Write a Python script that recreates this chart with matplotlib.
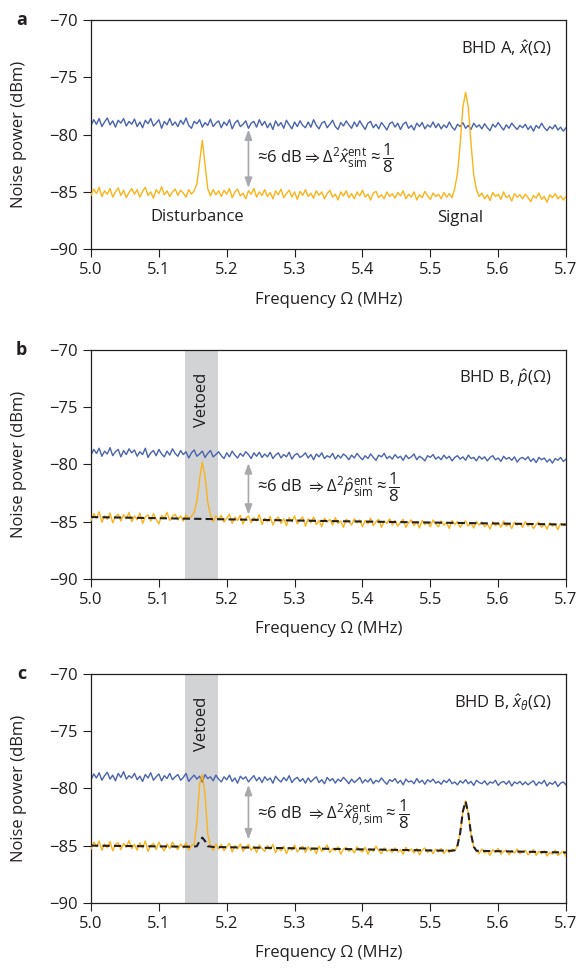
import numpy as np
import matplotlib
matplotlib.use("Agg")
import matplotlib.pyplot as plt

plt.rcParams['font.family'] = ['Open Sans', 'DejaVu Sans']
plt.rcParams['mathtext.fontset'] = 'custom'
plt.rcParams['mathtext.rm'] = 'Open Sans'
plt.rcParams['mathtext.it'] = 'Open Sans:italic'
plt.rcParams['mathtext.bf'] = 'Open Sans:bold'
plt.rcParams['mathtext.fallback'] = 'stixsans'

# ---------------- data ----------------
x_ticks = [5.0, 5.1, 5.2, 5.3, 5.4, 5.5, 5.6, 5.7]
y_ticks = [-90, -85, -80, -75, -70]
freq = np.round(np.linspace(5.0, 5.7, 176), 3)   # 0.004 MHz grid
veto_band = [5.139, 5.187]

a_blue = [
    -79.2, -78.7, -79.1, -78.6, -79.3, -78.9, -78.55, -79.15, -78.8, -79.35, -78.75, -79.0, -78.6, -79.25, -78.85, -79.1,
    -78.65, -79.3, -78.9, -79.4, -78.75, -79.05, -78.6, -79.25, -79.0, -78.7, -79.45, -78.85, -79.15, -78.6, -79.2, -78.9,
    -79.3, -78.75, -79.1, -78.55, -79.2, -79.45, -78.85, -79.05, -78.7, -79.35, -78.95, -79.2, -78.65, -79.3, -79.0, -78.8,
    -79.4, -78.9, -79.2, -78.7, -79.5, -79.0, -78.75, -79.3, -79.1, -78.8, -79.45, -79.0, -78.85, -79.35, -78.7, -79.2,
    -78.85, -79.4, -79.0, -79.55, -78.8, -79.25, -78.95, -79.45, -78.75, -79.15, -79.5, -78.9, -79.3, -78.8, -79.2, -79.4,
    -78.9, -79.35, -78.7, -79.2, -79.5, -79.0, -78.85, -79.4, -79.1, -78.75, -79.3, -79.55, -78.95, -79.25, -78.8, -79.15,
    -79.45, -78.9, -79.3, -78.8, -79.2, -79.55, -79.0, -78.85, -79.4, -79.1, -79.5, -78.95, -79.25, -79.6, -79.05, -78.9,
    -79.35, -79.0, -79.55, -79.1, -78.9, -79.45, -79.2, -79.6, -79.0, -79.3, -78.95, -79.5, -79.15, -79.35, -78.9, -79.4,
    -79.05, -79.5, -79.15, -79.4, -78.9, -79.35, -79.6, -79.1, -79.3, -78.95, -79.45, -79.2, -79.55, -79.0, -79.35, -79.15,
    -79.5, -79.05, -79.4, -79.65, -79.1, -79.35, -78.95, -79.3, -79.6, -79.15, -79.45, -79.0, -79.3, -79.55, -79.2, -79.4,
    -79.1, -79.55, -79.25, -79.7, -79.2, -79.45, -79.0, -79.4, -79.65, -79.3, -79.5, -79.15, -79.6, -79.35, -79.7, -79.4,
]
a_yellow = [
    -85.3, -84.75, -85.15, -84.6, -85.4, -84.9, -85.2, -84.7, -85.45, -85.0, -84.65, -85.3, -84.85, -85.5, -85.05, -84.7,
    -85.2, -84.8, -85.45, -84.95, -84.6, -85.3, -85.0, -85.55, -84.8, -85.15, -84.55, -85.25, -84.9, -85.4, -85.0, -84.75,
    -85.3, -84.85, -85.1, -85.45, -84.8, -85.2, -84.9, -84.3, -82.4, -80.5, -82.6, -84.7, -85.35, -84.8, -85.25, -84.9,
    -85.4, -84.85, -85.2, -84.7, -85.5, -85.0, -84.75, -85.35, -85.1, -85.6, -84.9, -85.2, -84.7, -85.45, -85.0, -85.3,
    -84.8, -85.4, -85.05, -85.6, -84.9, -85.25, -84.75, -85.5, -85.15, -84.85, -85.45, -85.0, -85.65, -84.95, -85.3, -84.8,
    -85.4, -85.1, -85.55, -84.9, -85.3, -85.0, -85.6, -85.15, -84.85, -85.45, -85.2, -85.7, -85.0, -85.35, -84.9, -85.5,
    -85.15, -85.6, -85.0, -85.35, -84.85, -85.45, -85.2, -85.7, -85.1, -84.95, -85.5, -85.25, -85.6, -85.0, -85.4, -85.15,
    -85.55, -85.05, -85.35, -84.9, -85.6, -85.2, -85.45, -85.0, -85.7, -85.25, -85.5, -84.95, -85.35, -85.65, -85.1, -85.4,
    -85.2, -85.6, -85.05, -85.45, -85.15, -85.5, -84.7, -83.4, -80.8, -77.6, -76.3, -77.6, -80.8, -83.5, -84.8, -85.4,
    -85.1, -85.6, -85.25, -85.75, -85.05, -85.4, -85.2, -85.65, -85.0, -85.5, -85.3, -85.8, -85.15, -85.45, -85.25, -85.6,
    -85.2, -85.5, -85.85, -85.3, -85.55, -85.1, -85.65, -85.4, -85.9, -85.25, -85.5, -85.15, -85.6, -85.35, -85.7, -85.4,
]
b_blue = [
    -79.2, -78.7, -79.05, -78.6, -79.3, -78.85, -79.1, -78.55, -79.25, -78.9, -78.7, -79.35, -78.8, -79.15, -78.65, -79.0,
    -78.75, -79.3, -78.9, -79.15, -78.6, -79.4, -79.0, -78.8, -79.25, -78.7, -79.1, -79.35, -78.85, -79.2, -78.65, -79.05,
    -79.3, -78.8, -79.15, -78.9, -79.45, -79.0, -78.75, -79.3, -79.1, -78.85, -79.4, -79.05, -78.8, -79.35, -79.15, -78.9,
    -79.25, -79.5, -79.0, -79.35, -78.85, -79.2, -79.45, -79.05, -79.3, -78.9, -79.15, -79.5, -79.0, -79.3, -78.95, -79.4,
    -79.1, -79.35, -78.95, -79.5, -79.2, -79.0, -79.45, -79.15, -79.35, -78.95, -79.55, -79.2, -79.05, -79.4, -79.25, -79.0,
    -79.45, -79.15, -79.6, -79.1, -79.35, -79.0, -79.5, -79.25, -79.4, -79.05, -79.55, -79.2, -79.45, -79.1, -79.3, -79.6,
    -79.2, -79.45, -79.05, -79.35, -79.6, -79.25, -79.5, -79.1, -79.4, -79.65, -79.2, -79.35, -79.05, -79.5, -79.3, -79.55,
    -79.15, -79.45, -79.3, -79.65, -79.2, -79.5, -79.35, -79.1, -79.6, -79.3, -79.45, -79.7, -79.25, -79.4, -79.15, -79.55,
    -79.35, -79.6, -79.2, -79.5, -79.3, -79.7, -79.4, -79.25, -79.55, -79.35, -79.65, -79.2, -79.5, -79.4, -79.7, -79.3,
    -79.55, -79.35, -79.7, -79.4, -79.25, -79.6, -79.45, -79.75, -79.3, -79.55, -79.4, -79.65, -79.35, -79.8, -79.5, -79.4,
    -79.6, -79.35, -79.75, -79.5, -79.85, -79.4, -79.6, -79.45, -79.8, -79.55, -79.9, -79.5, -79.65, -79.4, -79.75, -79.55,
]
b_yellow = [
    -84.9, -84.3, -84.7, -84.15, -85.05, -84.5, -84.8, -84.25, -85.1, -84.55, -84.35, -84.95, -84.4, -84.75, -84.2, -85.0,
    -84.5, -84.85, -84.25, -85.15, -84.6, -84.4, -84.95, -84.3, -84.8, -85.2, -84.45, -84.7, -84.2, -84.9, -84.55, -84.35,
    -84.85, -84.5, -84.95, -84.4, -84.75, -84.55, -84.2, -83.2, -81.3, -79.8, -81.0, -83.3, -84.4, -85.0, -84.5, -84.85,
    -84.45, -85.05, -84.7, -84.35, -85.15, -84.6, -84.9, -84.45, -85.2, -84.7, -84.5, -85.1, -84.65, -84.95, -84.4, -85.25,
    -84.7, -85.0, -84.55, -85.3, -84.8, -84.6, -85.15, -84.75, -85.35, -84.65, -85.0, -84.5, -85.2, -84.85, -84.6, -85.4,
    -84.75, -85.1, -84.6, -85.25, -84.9, -85.45, -84.7, -85.05, -84.8, -85.3, -84.65, -85.15, -84.95, -85.5, -84.8, -85.0,
    -85.3, -84.75, -85.1, -84.85, -85.45, -84.9, -85.2, -84.7, -85.35, -85.0, -84.8, -85.5, -84.95, -85.15, -84.75, -85.3,
    -84.9, -85.4, -85.05, -84.8, -85.5, -85.1, -84.85, -85.35, -85.0, -85.55, -84.9, -85.25, -85.05, -85.45, -84.85, -85.2,
    -85.45, -84.95, -85.3, -85.1, -85.6, -84.9, -85.25, -85.0, -85.5, -85.15, -84.95, -85.4, -85.1, -85.55, -85.0, -85.3,
    -85.05, -85.45, -85.2, -85.65, -85.0, -85.35, -85.1, -85.5, -84.95, -85.4, -85.2, -85.6, -85.05, -85.3, -85.15, -85.5,
    -85.0, -85.4, -85.15, -85.6, -85.25, -85.05, -85.5, -85.2, -85.65, -85.1, -85.4, -85.25, -85.7, -85.15, -85.35, -85.3,
]
c_blue = [
    -79.25, -78.75, -79.1, -78.65, -79.3, -78.9, -78.6, -79.2, -78.85, -79.35, -78.7, -79.05, -78.55, -79.2, -78.9, -79.1,
    -78.7, -79.25, -78.95, -79.4, -78.8, -79.1, -78.65, -79.3, -79.0, -78.75, -79.35, -78.9, -79.15, -78.7, -79.25, -79.0,
    -78.8, -79.3, -79.05, -78.7, -79.4, -79.1, -78.85, -79.2, -78.95, -79.45, -78.8, -79.15, -79.0, -79.35, -78.85, -79.2,
    -79.45, -79.0, -79.25, -78.85, -79.4, -79.1, -79.55, -78.95, -79.2, -79.0, -79.45, -79.15, -78.9, -79.35, -79.05, -79.5,
    -79.0, -79.3, -79.1, -79.55, -78.95, -79.25, -79.45, -79.05, -79.35, -78.9, -79.5, -79.2, -79.05, -79.4, -79.15, -79.55,
    -79.1, -79.45, -79.2, -79.0, -79.5, -79.25, -79.6, -79.05, -79.35, -79.15, -79.55, -79.2, -79.4, -79.05, -79.3, -79.6,
    -79.2, -79.5, -79.3, -79.05, -79.55, -79.25, -79.45, -79.15, -79.6, -79.3, -79.45, -79.1, -79.4, -79.65, -79.25, -79.4,
    -79.15, -79.55, -79.3, -79.7, -79.2, -79.45, -79.35, -79.6, -79.15, -79.5, -79.3, -79.65, -79.25, -79.45, -79.2, -79.55,
    -79.4, -79.65, -79.3, -79.5, -79.2, -79.6, -79.45, -79.7, -79.35, -79.55, -79.25, -79.6, -79.4, -79.75, -79.3, -79.5,
    -79.6, -79.35, -79.7, -79.45, -79.55, -79.3, -79.75, -79.5, -79.4, -79.65, -79.35, -79.8, -79.45, -79.6, -79.4, -79.7,
    -79.45, -79.7, -79.5, -79.35, -79.75, -79.45, -79.6, -79.3, -79.8, -79.5, -79.65, -79.4, -79.85, -79.55, -79.45, -79.7,
]
c_yellow = [
    -85.3, -84.7, -85.1, -84.6, -85.4, -84.85, -85.2, -84.65, -85.45, -84.9, -84.75, -85.35, -84.8, -85.15, -84.55, -85.25,
    -84.9, -85.4, -84.75, -85.2, -84.6, -85.5, -85.0, -84.8, -85.35, -84.7, -85.15, -85.45, -84.85, -85.25, -84.7, -85.1,
    -85.35, -84.85, -85.2, -84.75, -85.4, -85.0, -84.9, -83.0, -79.6, -78.8, -80.5, -84.0, -85.0, -85.4, -84.85, -85.3,
    -84.9, -85.45, -85.1, -84.8, -85.55, -85.0, -85.3, -84.85, -85.5, -85.15, -84.9, -85.4, -85.05, -85.6, -84.95, -85.25,
    -85.5, -85.0, -85.35, -84.9, -85.6, -85.2, -85.45, -85.05, -85.7, -85.15, -85.4, -84.95, -85.55, -85.25, -85.05, -85.6,
    -85.1, -85.45, -85.2, -85.7, -85.05, -85.5, -85.3, -84.95, -85.6, -85.25, -85.45, -85.1, -85.75, -85.3, -85.15, -85.5,
    -85.25, -85.65, -85.1, -85.4, -85.55, -85.15, -85.75, -85.3, -85.5, -85.05, -85.45, -85.7, -85.2, -85.5, -85.35, -85.6,
    -85.2, -85.55, -85.35, -85.75, -85.15, -85.5, -85.3, -85.65, -85.25, -85.8, -85.4, -85.2, -85.6, -85.35, -85.7, -85.3,
    -85.55, -85.25, -85.7, -85.35, -85.6, -85.3, -85.45, -85.0, -83.9, -82.0, -81.1, -82.2, -84.0, -85.1, -85.45, -85.7,
    -85.3, -85.65, -85.45, -85.85, -85.35, -85.6, -85.25, -85.75, -85.5, -85.4, -85.8, -85.45, -85.65, -85.3, -85.7, -85.55,
    -85.4, -85.8, -85.6, -85.35, -85.85, -85.5, -85.7, -85.45, -85.9, -85.6, -85.75, -85.4, -85.85, -85.65, -85.5, -85.95,
]
# dashed model curves
b_model_f = [5.0, 5.35, 5.7]
b_model_v = [-84.6, -84.95, -85.25]
c_model_f = [5.0, 5.15, 5.156, 5.16, 5.164, 5.168, 5.172, 5.18, 5.532, 5.536, 5.54,
             5.544, 5.548, 5.552, 5.556, 5.56, 5.564, 5.568, 5.7]
c_model_v = [-85.0, -85.1, -85.05, -84.6, -84.3, -84.6, -85.05, -85.12, -85.45, -85.4, -85.0,
             -83.9, -82.0, -81.15, -82.2, -84.0, -85.1, -85.45, -85.6]

for arr in (a_blue, a_yellow, b_blue, b_yellow, c_blue, c_yellow):
    assert len(arr) == len(freq), len(arr)

panel_letters = ['a', 'b', 'c']
panel_titles = [r'BHD A, $\hat{x}(\Omega)$', r'BHD B, $\hat{p}(\Omega)$',
                r'BHD B, $\hat{x}_{\theta}(\Omega)$']
annot_texts = [
    '\u22486 dB' + r'$\Rightarrow\Delta^2\hat{x}^{\mathrm{ent}}_{\mathrm{sim}}\approx\dfrac{1}{8}$',
    '\u22486 dB ' + r'$\Rightarrow\Delta^2\hat{p}^{\mathrm{ent}}_{\mathrm{sim}}\approx\dfrac{1}{8}$',
    '\u22486 dB ' + r'$\Rightarrow\Delta^2\hat{x}^{\mathrm{ent}}_{\theta,\mathrm{sim}}\approx\dfrac{1}{8}$',
]
arrow_x = 5.232
arrow_spans = [(-79.55, -84.65), (-79.9, -84.4), (-79.7, -84.47)]
annot_y = [-82.1, -82.0, -82.3]

BLUE = '#4a63ae'
YELLOW = '#fbb31a'
DARK = '#231f20'
GREY_ARROW = '#a7a9ac'
VETO = '#d1d3d4'

fig = plt.figure(figsize=(5.79, 9.68), dpi=100)
left, width, height = 0.1572, 0.8204, 0.2369
bottoms = [0.7425, 0.4019, 0.0672]

blues = [a_blue, b_blue, c_blue]
yellows = [a_yellow, b_yellow, c_yellow]
models = [None, (b_model_f, b_model_v), (c_model_f, c_model_v)]

for k in range(3):
    ax = fig.add_axes([left, bottoms[k], width, height])
    if k > 0:
        ax.axvspan(veto_band[0], veto_band[1], color=VETO, lw=0, zorder=0)
        ax.text(np.mean(veto_band), -74.4, 'Vetoed', rotation=90, ha='center', va='center',
                fontsize=12, color=DARK)
    ax.plot(freq, blues[k], color=BLUE, lw=1.0, zorder=2)
    ax.plot(freq, yellows[k], color=YELLOW, lw=1.0, zorder=3)
    if models[k] is not None:
        ax.plot(models[k][0], models[k][1], color=DARK, lw=1.5, dashes=(3.5, 2.0), zorder=4)
    ax.annotate('', xy=(arrow_x, arrow_spans[k][1]), xytext=(arrow_x, arrow_spans[k][0]),
                arrowprops=dict(arrowstyle='<|-|>,head_length=0.6,head_width=0.22',
                                color=GREY_ARROW, lw=1.2, shrinkA=0, shrinkB=0), zorder=5)
    ax.text(5.244, annot_y[k], annot_texts[k], ha='left', va='center', fontsize=12, color=DARK)
    ax.text(0.97, 0.875, panel_titles[k], transform=ax.transAxes, ha='right', va='center',
            fontsize=12, color=DARK)
    if k == 0:
        ax.text(5.157, -87.2, 'Disturbance', ha='center', va='center', fontsize=12, color=DARK)
        ax.text(5.544, -87.3, 'Signal', ha='center', va='center', fontsize=12, color=DARK)

    ax.set_xlim(5.0, 5.7)
    ax.set_ylim(-90, -70)
    ax.set_xticks(x_ticks)
    ax.set_xticklabels([f'{v:.1f}' for v in x_ticks])
    ax.set_yticks(y_ticks)
    ax.set_yticklabels([f'\u2212{abs(v)}' for v in y_ticks])
    ax.tick_params(direction='out', length=5.5, width=0.8, colors=DARK, labelsize=12, pad=4)
    for sp in ax.spines.values():
        sp.set_color(DARK)
        sp.set_linewidth(0.9)
    ax.set_xlabel('Frequency \u03a9 (MHz)', fontsize=12, color=DARK)
    ax.set_ylabel('Noise power (dBm)', fontsize=12, color=DARK)
    ax.xaxis.set_label_coords(0.5, -0.185)
    ax.yaxis.set_label_coords(-0.134, 0.5)
    fig.text(0.037, bottoms[k] + height, panel_letters[k], fontsize=13, fontweight='bold',
             ha='center', va='center', color=DARK)

fig.savefig('out.png', dpi=100)
